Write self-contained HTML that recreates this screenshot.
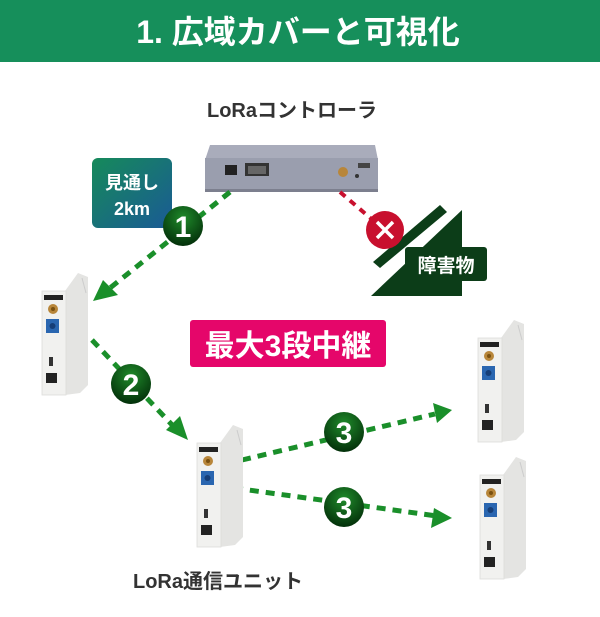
<!DOCTYPE html>
<html><head><meta charset="utf-8"><style>
body{margin:0;width:600px;height:612px;background:#fff;overflow:hidden;font-family:"Liberation Sans","Noto Sans CJK JP",sans-serif}
</style></head><body>
<svg width="600" height="612" viewBox="0 0 600 612" xmlns="http://www.w3.org/2000/svg" font-family="Liberation Sans, Noto Sans CJK JP, sans-serif">
<defs>
<radialGradient id="gc" cx="50%" cy="30%" r="70%"><stop offset="0" stop-color="#1f8a2a"/><stop offset="1" stop-color="#03300a"/></radialGradient>
<linearGradient id="lb" x1="0" y1="0" x2="1" y2="1"><stop offset="0" stop-color="#168a5a"/><stop offset="1" stop-color="#1a5a95"/></linearGradient>
<g id="dev">
<polygon points="23,18 36,0 46,4 46,112 38,120 23,122" fill="#e4e4e2"/>
<rect x="0" y="18" width="24" height="104" fill="#f1f1ef" stroke="#dcdcda" stroke-width="0.8"/>
<rect x="2" y="22" width="19" height="5" fill="#222"/>
<circle cx="11" cy="36" r="5" fill="#b8863a"/><circle cx="11" cy="36" r="2" fill="#7a5010"/>
<rect x="4" y="46" width="13" height="14" fill="#2a66b0"/><circle cx="10.5" cy="53" r="3" fill="#163e77"/>
<rect x="7" y="84" width="4" height="9" fill="#333"/>
<rect x="4" y="100" width="11" height="10" fill="#222"/>
<line x1="40" y1="5" x2="44" y2="20" stroke="#ccc"/>
</g>
</defs>
<rect x="0" y="0" width="600" height="62" fill="#168f5b"/>
<text x="298" y="43" text-anchor="middle" font-size="32" font-weight="bold" fill="#fff">1. 広域カバーと可視化</text>
<text x="292" y="117" text-anchor="middle" font-size="20" font-weight="bold" fill="#333">LoRaコントローラ</text>
<!-- controller -->
<polygon points="210,145 375,145 378,160 205,160" fill="#a9acbb"/>
<rect x="205" y="158" width="173" height="34" fill="#9a9eae"/>
<rect x="205" y="189" width="173" height="3" fill="#7c7f8e"/>
<rect x="225" y="165" width="12" height="10" fill="#222"/>
<rect x="245" y="163" width="24" height="13" fill="#333"/><rect x="248" y="166" width="18" height="8" fill="#666"/>
<circle cx="343" cy="172" r="5" fill="#b8863a"/>
<circle cx="357" cy="176" r="2" fill="#333"/>
<rect x="358" y="163" width="12" height="5" fill="#444"/>
<!-- obstacle -->
<polygon points="373,262 440,205 447,212 380,268" fill="#0c3d18"/>
<polygon points="371,296 462,210 462,296" fill="#0c3d18"/>
<rect x="405" y="247" width="82" height="34" rx="3" fill="#0c3d18"/>
<text x="446" y="272" text-anchor="middle" font-size="19" font-weight="bold" fill="#fff">障害物</text>
<!-- red dashed -->
<line x1="340" y1="192" x2="375" y2="222" stroke="#c8102e" stroke-width="4" stroke-dasharray="7,6"/>
<circle cx="385" cy="230" r="19" fill="#c8102e"/>
<path d="M377 222 L393 238 M393 222 L377 238" stroke="#fff" stroke-width="3.5"/>
<!-- label -->
<rect x="92" y="158" width="80" height="70" rx="6" fill="url(#lb)"/>
<text x="132" y="189" text-anchor="middle" font-size="18" font-weight="bold" fill="#fff">見通し</text>
<text x="132" y="215" text-anchor="middle" font-size="18" font-weight="bold" fill="#fff">2km</text>
<!-- green dashed lines -->
<g stroke="#1a8f2a" stroke-width="5" stroke-dasharray="9,7" fill="none">
<line x1="230" y1="192" x2="110" y2="288"/>
<line x1="92" y1="340" x2="175" y2="428"/>
<line x1="242" y1="460" x2="435" y2="414"/>
<line x1="234" y1="488" x2="437" y2="516"/>
</g>
<g fill="#1a8f2a">
<polygon points="93,301 103,280 118,295"/>
<polygon points="188,440 166,430 180,416"/>
<polygon points="452,410 433,403 437,423"/>
<polygon points="452,518 434,508 431,528"/>
</g>
<!-- devices -->
<use href="#dev" x="42" y="273"/>
<use href="#dev" x="197" y="425"/>
<use href="#dev" x="478" y="320"/>
<use href="#dev" x="480" y="457"/>
<!-- circles -->
<g font-size="30" font-weight="bold" fill="#fff" text-anchor="middle">
<circle cx="183" cy="226" r="20" fill="url(#gc)"/><text x="183" y="237">1</text>
<circle cx="131" cy="384" r="20" fill="url(#gc)"/><text x="131" y="395">2</text>
<circle cx="344" cy="432" r="20" fill="url(#gc)"/><text x="344" y="443">3</text>
<circle cx="344" cy="507" r="20" fill="url(#gc)"/><text x="344" y="518">3</text>
</g>
<rect x="190" y="320" width="196" height="47" rx="3" fill="#e5066a"/>
<text x="288" y="356" text-anchor="middle" font-size="30" font-weight="bold" fill="#fff">最大3段中継</text>
<text x="218" y="588" text-anchor="middle" font-size="20" font-weight="bold" fill="#333">LoRa通信ユニット</text>
</svg>
</body></html>
